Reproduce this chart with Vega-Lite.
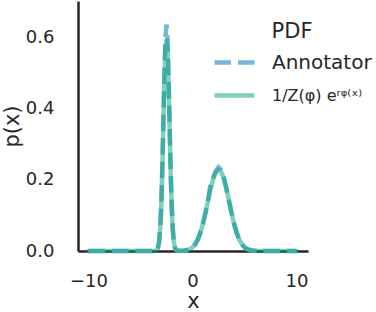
{
  "$schema": "https://vega.github.io/schema/vega-lite/v6.json",
  "width": 230,
  "height": 250,
  "autosize": {"type": "none"},
  "padding": {"left": 78, "top": 1, "right": 68, "bottom": 61},
  "background": "white",
  "config": {
    "font": "DejaVu Sans",
    "view": {"stroke": null},
    "axis": {
      "grid": false, "ticks": false, "tickSize": 0,
      "domainColor": "#262626", "domainWidth": 2.5,
      "labelColor": "#262626", "titleColor": "#262626",
      "labelFontSize": 18, "titleFontSize": 21, "titleFontWeight": "normal"
    },
    "legend": {
      "labelColor": "#262626", "titleColor": "#262626",
      "labelFontSize": 20, "titleFontSize": 21, "titleFontWeight": "normal"
    }
  },
  "datasets": {
    "ann": [
      {"x": -10, "p": 0}, {"x": -8, "p": 0}, {"x": -6, "p": 0}, {"x": -4, "p": 0}, {"x": -3.8, "p": 0},
      {"x": -3.6, "p": 0.0003}, {"x": -3.5, "p": 0.0011}, {"x": -3.4, "p": 0.0037}, {"x": -3.3, "p": 0.0108},
      {"x": -3.2, "p": 0.0282}, {"x": -3.1, "p": 0.0645}, {"x": -3.0, "p": 0.13}, {"x": -2.9, "p": 0.231},
      {"x": -2.8, "p": 0.361}, {"x": -2.7, "p": 0.497}, {"x": -2.6, "p": 0.601}, {"x": -2.5, "p": 0.638},
      {"x": -2.4, "p": 0.601}, {"x": -2.3, "p": 0.497}, {"x": -2.2, "p": 0.361}, {"x": -2.1, "p": 0.231},
      {"x": -2.0, "p": 0.13}, {"x": -1.9, "p": 0.0645}, {"x": -1.8, "p": 0.0282}, {"x": -1.7, "p": 0.0108},
      {"x": -1.6, "p": 0.0037}, {"x": -1.5, "p": 0.0012}, {"x": -1.4, "p": 0.0004}, {"x": -1.0, "p": 0.0005},
      {"x": -0.75, "p": 0.0012}, {"x": -0.5, "p": 0.0026}, {"x": -0.25, "p": 0.0054}, {"x": 0, "p": 0.0103},
      {"x": 0.25, "p": 0.0187}, {"x": 0.5, "p": 0.0318}, {"x": 0.75, "p": 0.0508}, {"x": 1.0, "p": 0.0763},
      {"x": 1.25, "p": 0.1076}, {"x": 1.5, "p": 0.145}, {"x": 1.75, "p": 0.19}, {"x": 2.0, "p": 0.208},
      {"x": 2.25, "p": 0.226}, {"x": 2.5, "p": 0.236}, {"x": 2.75, "p": 0.228}, {"x": 3.0, "p": 0.2074},
      {"x": 3.25, "p": 0.1774}, {"x": 3.5, "p": 0.1425}, {"x": 3.75, "p": 0.1076}, {"x": 4.0, "p": 0.0763},
      {"x": 4.25, "p": 0.0508}, {"x": 4.5, "p": 0.0318}, {"x": 4.75, "p": 0.0187}, {"x": 5.0, "p": 0.0103},
      {"x": 5.25, "p": 0.0054}, {"x": 5.5, "p": 0.0026}, {"x": 5.75, "p": 0.0012}, {"x": 6.0, "p": 0.0005},
      {"x": 6.5, "p": 0.0001}, {"x": 7, "p": 0}, {"x": 8, "p": 0}, {"x": 10, "p": 0}
    ],
    "fit": [
      {"x": -10, "p": 0}, {"x": -8, "p": 0}, {"x": -6, "p": 0}, {"x": -4, "p": 0}, {"x": -3.8, "p": 0},
      {"x": -3.6, "p": 0.0003}, {"x": -3.5, "p": 0.0011}, {"x": -3.4, "p": 0.0037}, {"x": -3.3, "p": 0.011},
      {"x": -3.2, "p": 0.028}, {"x": -3.1, "p": 0.064}, {"x": -3.0, "p": 0.128}, {"x": -2.9, "p": 0.228},
      {"x": -2.8, "p": 0.352}, {"x": -2.7, "p": 0.478}, {"x": -2.6, "p": 0.572}, {"x": -2.5, "p": 0.594},
      {"x": -2.4, "p": 0.568}, {"x": -2.3, "p": 0.478}, {"x": -2.2, "p": 0.352}, {"x": -2.1, "p": 0.228},
      {"x": -2.0, "p": 0.128}, {"x": -1.9, "p": 0.064}, {"x": -1.8, "p": 0.028}, {"x": -1.7, "p": 0.011},
      {"x": -1.6, "p": 0.0037}, {"x": -1.5, "p": 0.0012}, {"x": -1.4, "p": 0.0004}, {"x": -1.0, "p": 0.0005},
      {"x": -0.75, "p": 0.0012}, {"x": -0.5, "p": 0.0026}, {"x": -0.25, "p": 0.0054}, {"x": 0, "p": 0.0103},
      {"x": 0.25, "p": 0.0187}, {"x": 0.5, "p": 0.0318}, {"x": 0.75, "p": 0.0508}, {"x": 1.0, "p": 0.0763},
      {"x": 1.25, "p": 0.1076}, {"x": 1.5, "p": 0.1425}, {"x": 1.75, "p": 0.176}, {"x": 2.0, "p": 0.204},
      {"x": 2.25, "p": 0.222}, {"x": 2.5, "p": 0.228}, {"x": 2.75, "p": 0.223}, {"x": 3.0, "p": 0.205},
      {"x": 3.25, "p": 0.1774}, {"x": 3.5, "p": 0.1425}, {"x": 3.75, "p": 0.1076}, {"x": 4.0, "p": 0.0763},
      {"x": 4.25, "p": 0.0508}, {"x": 4.5, "p": 0.0318}, {"x": 4.75, "p": 0.0187}, {"x": 5.0, "p": 0.0103},
      {"x": 5.25, "p": 0.0054}, {"x": 5.5, "p": 0.0026}, {"x": 5.75, "p": 0.0012}, {"x": 6.0, "p": 0.0005},
      {"x": 6.5, "p": 0.0001}, {"x": 7, "p": 0}, {"x": 8, "p": 0}, {"x": 10, "p": 0}
    ]
  },
  "encoding": {
    "x": {"field": "x", "type": "quantitative",
      "scale": {"domain": [-11, 11.1], "nice": false, "zero": false},
      "axis": {"values": [-10, 0, 10], "labelPadding": 21, "title": "x", "titlePadding": 0}},
    "y": {"field": "p", "type": "quantitative",
      "scale": {"domain": [0, 0.704], "nice": false},
      "axis": {"values": [0, 0.2, 0.4, 0.6], "format": ".1f", "labelPadding": 24, "title": "p(x)", "titlePadding": 3}},
    "color": {"field": "s", "type": "nominal",
      "scale": {"domain": ["Annotator", "1/Z(φ) eʳᵠ⁽ˣ⁾"], "range": ["#7ab6d9", "#00a373"]},
      "legend": {"title": "PDF", "orient": "none", "legendX": 134, "legendY": 20,
        "symbolType": "stroke", "symbolSize": 1600, "symbolStrokeWidth": 4.5,
        "labelOffset": 15, "rowPadding": -4, "titlePadding": -2, "titleAnchor": "middle",
        "encode": {"labels": {"update": {"fontSize": {"signal": "datum.label === 'Annotator' ? 20 : 16"}}}}}},
    "strokeDash": {"field": "s", "type": "nominal",
      "scale": {"domain": ["Annotator", "1/Z(φ) eʳᵠ⁽ˣ⁾"], "range": [[16.5, 7], [1, 0]]}},
    "opacity": {"field": "s", "type": "nominal",
      "scale": {"domain": ["Annotator", "1/Z(φ) eʳᵠ⁽ˣ⁾"], "range": [1, 0.5]}}
  },
  "layer": [
    {"data": {"name": "ann"}, "transform": [{"calculate": "'Annotator'", "as": "s"}],
      "mark": {"type": "line", "strokeWidth": 4.5, "strokeCap": "butt"}},
    {"data": {"name": "fit"}, "transform": [{"calculate": "'1/Z(φ) eʳᵠ⁽ˣ⁾'", "as": "s"}],
      "mark": {"type": "line", "strokeWidth": 4.5, "strokeCap": "round"}}
  ]
}
